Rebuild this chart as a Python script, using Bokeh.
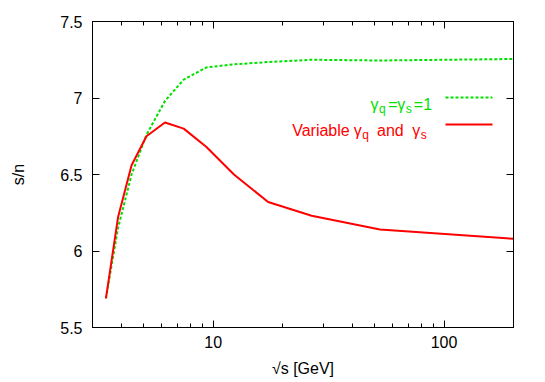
from bokeh.plotting import figure
from bokeh.models import Range1d, FixedTicker, LinearAxis, LogAxis, Label, Arrow
from bokeh.embed import file_html
from bokeh.resources import INLINE

# ---- data ----
sqrt_s = [3.43, 3.87, 4.43, 5.14, 6.18, 7.45, 9.35, 12.3, 17.3, 26.7, 52.8, 200.0]
sn_const = [5.69, 6.15, 6.50, 6.76, 6.98, 7.12, 7.20, 7.22, 7.235, 7.25, 7.245, 7.255]
sn_variable = [5.69, 6.22, 6.56, 6.75, 6.84, 6.80, 6.68, 6.50, 6.32, 6.23, 6.14, 6.08]

x_major = [10, 100]
x_labels = {10: "10", 100: "100"}
x_minor = [3, 4, 5, 6, 7, 8, 9, 20, 30, 40, 50, 60, 70, 80, 90, 200]
y_major = [5.5, 6, 6.5, 7, 7.5]
y_labels = {5.5: "5.5", 6: "6", 6.5: "6.5", 7: "7", 7.5: "7.5"}

x_title = "√s [GeV]"
y_title = "s/n"

GREEN = "#00e000"
RED = "#ff0000"
FONT = "Liberation Sans"

p = figure(width=545, height=382, x_axis_type="log",
           x_range=Range1d(3, 200), y_range=Range1d(5.5, 7.5),
           output_backend="svg", toolbar_location=None,
           min_border_left=92, min_border_right=32,
           min_border_top=21, min_border_bottom=55)
p.xgrid.visible = False
p.ygrid.visible = False
p.outline_line_color = "black"
p.outline_line_width = 1
p.background_fill_color = "white"
p.border_fill_color = "white"

def style(ax, show_labels):
    ax.major_tick_in = 7
    ax.major_tick_out = 0
    ax.minor_tick_in = 4
    ax.minor_tick_out = 0
    ax.axis_line_color = "black"
    ax.major_tick_line_color = "black"
    ax.minor_tick_line_color = "black"
    ax.major_tick_line_width = 1
    ax.minor_tick_line_width = 1
    if show_labels:
        ax.major_label_text_font = FONT
        ax.major_label_text_font_size = "16px"
        ax.major_label_text_color = "black"
        ax.axis_label_text_font = FONT
        ax.axis_label_text_font_size = "16px"
        ax.axis_label_text_font_style = "normal"
        ax.axis_label_text_color = "black"
    else:
        ax.major_label_text_font_size = "1px"
        ax.major_label_text_color = None
        ax.major_label_standoff = 0

xa = p.xaxis[0]
xa.ticker = FixedTicker(ticks=x_major, minor_ticks=x_minor)
style(xa, True)
xa.major_label_overrides = x_labels
xa.major_label_standoff = 8
xa.axis_label = x_title
xa.axis_label_standoff = 9

ya = p.yaxis[0]
ya.ticker = FixedTicker(ticks=y_major, minor_ticks=[])
style(ya, True)
ya.major_label_overrides = y_labels
ya.major_label_standoff = 10
ya.axis_label = y_title
ya.axis_label_standoff = 30

top = LogAxis(ticker=FixedTicker(ticks=x_major, minor_ticks=x_minor))
style(top, False)
p.add_layout(top, "above")
right = LinearAxis(ticker=FixedTicker(ticks=y_major, minor_ticks=[]))
style(right, False)
p.add_layout(right, "right")

p.line(sqrt_s, sn_const, line_color=GREEN, line_width=2, line_dash="3 2")
p.line(sqrt_s, sn_variable, line_color=RED, line_width=2)

# ---- key (frame-relative screen units) ----
def txt(t, x, y, color, size="16px"):
    p.add_layout(Label(x=x, y=y, x_units="screen", y_units="screen", text=t,
                       text_font=FONT, text_font_size=size, text_color=color,
                       text_baseline="alphabetic", text_align="left"))

entry1 = [("γ", 278, False), ("q", 286.5, True), ("=", 295.7, False), ("γ", 304.7, False),
          ("s", 313.2, True), ("=1", 321.3, False)]
for t, x, sub in entry1:
    txt(t, x, 219 if sub else 223, GREEN, "12px" if sub else "16px")
entry2 = [("Variable", 199.7, False), ("γ", 261.3, False), ("q", 269.8, True),
          ("and", 284.5, False), ("γ", 319.7, False), ("s", 328.2, True)]
for t, x, sub in entry2:
    txt(t, x, 193 if sub else 197, RED, "12px" if sub else "16px")

p.add_layout(Arrow(end=None, x_start=353, y_start=230, x_end=400, y_end=230,
                   start_units="screen", end_units="screen",
                   line_color=GREEN, line_width=2, line_dash="3 2"))
p.add_layout(Arrow(end=None, x_start=353, y_start=203, x_end=400, y_end=203,
                   start_units="screen", end_units="screen",
                   line_color=RED, line_width=2))

open("out.html", "w").write(file_html(p, INLINE))
